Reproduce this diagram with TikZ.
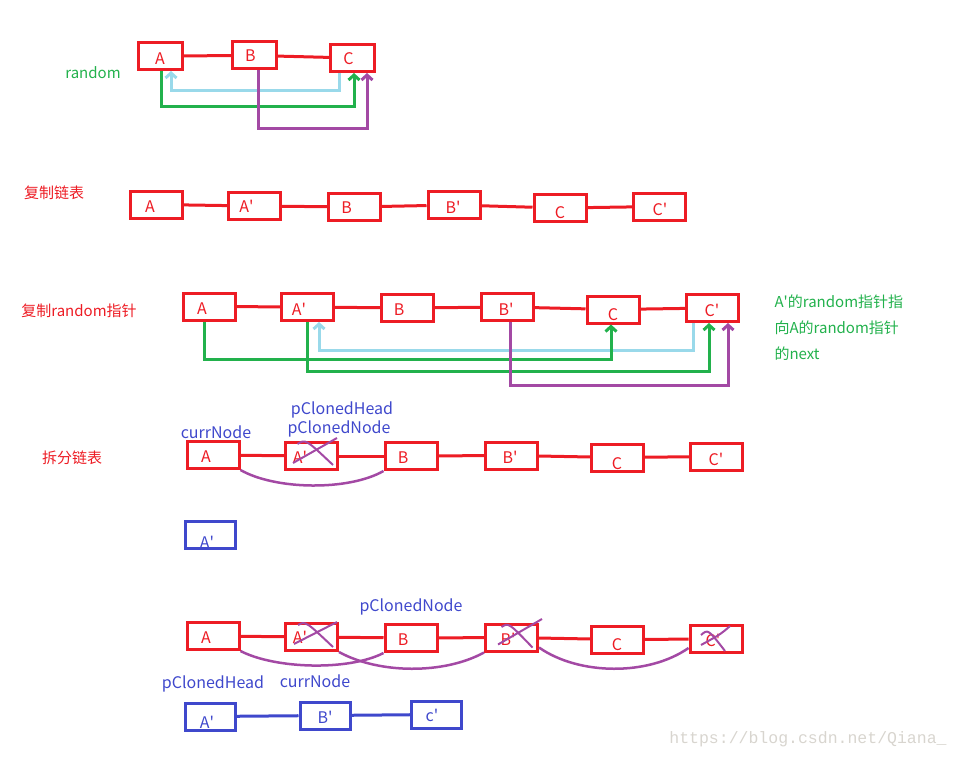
\documentclass[tikz,border=0pt]{standalone}
\usepackage{fontspec}
\setmainfont{Noto Sans CJK SC}
\newfontfamily\urlfont{Liberation Mono}
\usetikzlibrary{arrows.meta}
\definecolor{listred}{HTML}{ED1C24}
\definecolor{randgreen}{HTML}{22B14C}
\definecolor{skyblue}{HTML}{99D9EA}
\definecolor{nextpurple}{HTML}{A349A4}
\definecolor{cloneblue}{HTML}{3F48CC}
\definecolor{markgray}{HTML}{D8D5CF}
\newcommand{\pr}{\textquotesingle}
% text of a cell, moved right by #1 and down by #2 from the middle of the box
\newcommand{\cell}[3]{\raisebox{-\dimexpr#2pt+5.9pt\relax}[0pt][0pt]{\makebox[0pt]{\hspace*{#1pt}\hspace*{#1pt}#3}}}

\begin{document}
\begin{tikzpicture}[x=1pt, y=-1pt, >={Straight Barb[length=5pt,width=11pt]},
    box/.style={draw=listred, line width=3pt, minimum width=52pt, minimum height=27pt,
      inner sep=0pt, text=listred, font=\fontsize{16}{16}\selectfont},
    smallbox/.style={box, minimum width=44pt},
    clonebox/.style={box, draw=cloneblue, text=cloneblue, minimum width=50pt},
    link/.style={listred, line width=3pt},
    clonelink/.style={cloneblue, line width=3pt},
    ptr/.style={line width=3pt, ->},
    bypass/.style={nextpurple, line width=2.5pt},
    strike/.style={nextpurple, line width=2pt},
    title/.style={text=listred, font=\fontsize{15}{15}\selectfont},
    note/.style={text=randgreen, font=\fontsize{15}{15}\selectfont, anchor=west},
    var/.style={text=cloneblue, font=\fontsize{16}{16}\selectfont}]
  \useasboundingbox (0,0) rectangle (960,757);

  % random pointers
  \node[text=randgreen, font=\fontsize{15}{15}\selectfont] (RLBL) at (93,73) {random};
  \node[smallbox] (RA) at (160,56) {\cell{0}{3}{A}};
  \node[smallbox] (RB) at (254.5,55.5) {\cell{-4}{0}{B}};
  \node[smallbox] (RC) at (352.5,58) {\cell{-4}{1}{C}};
  \draw[link] (RA) -- (RB);
  \draw[link] (RB) -- (RC);
  \draw[ptr, skyblue] ([shift={(-13.5,0)}]RC.south) -- ++(0,17.5) -| ([shift={(11,0)}]RA.south);
  \draw[ptr, randgreen] ([shift={(1,0)}]RA.south) -- ++(0,35.5) -| ([shift={(1.5,0)}]RC.south);
  \draw[ptr, nextpurple] ([shift={(3.5,0)}]RB.south) -- ++(0,58) -| ([shift={(14.5,0)}]RC.south);

  % copy list
  \node[title] (CLBL) at (54,193) {复制链表};
  \node[box] (CA) at (156,204.5) {\cell{-6}{2.5}{A}};
  \node[box] (CAp) at (254.5,206) {\cell{-8}{1}{A\pr}};
  \node[box] (CB) at (354.5,207) {\cell{-8}{1}{B}};
  \node[box] (CBp) at (454,205) {\cell{-1}{3}{B\pr}};
  \node[box] (CC) at (560,208) {\cell{0}{5}{C}};
  \node[box] (CCp) at (659.5,206.5) {\cell{0.5}{3.5}{C\pr}};
  \draw[link] (CA) -- (CAp);
  \draw[link] (CAp) -- (CB);
  \draw[link] (CB) -- (CBp);
  \draw[link] (CBp) -- (CC);
  \draw[link] (CC) -- (CCp);

  % copy random pointers
  \node[title] (PLBL) at (79,311) {复制random指针};
  \node[box] (PA) at (209.5,306.5) {\cell{-7.5}{2.5}{A}};
  \node[box] (PAp) at (307.5,307) {\cell{-8.5}{3}{A\pr}};
  \node[box] (PB) at (407.5,308) {\cell{-8.5}{2}{B}};
  \node[box] (PBp) at (507.5,307) {\cell{-1.5}{3}{B\pr}};
  \node[box] (PC) at (613,309.5) {\cell{0}{5.5}{C}};
  \node[box] (PCp) at (712.5,308) {\cell{-0.5}{3}{C\pr}};
  \draw[link] (PA) -- (PAp);
  \draw[link] (PAp) -- (PB);
  \draw[link] (PB) -- (PBp);
  \draw[link] (PBp) -- (PC);
  \draw[link] (PC) -- (PCp);
  \draw[ptr, skyblue] ([shift={(-19.5,0)}]PCp.south) -- ++(0,27.5) -| ([shift={(11.5,0)}]PAp.south);
  \draw[ptr, randgreen] ([shift={(-5.5,0)}]PA.south) -- ++(0,38) -| ([shift={(-2,0)}]PC.south);
  \draw[ptr, randgreen] ([shift={(-0.5,0)}]PAp.south) -- ++(0,49.5) -| ([shift={(-3.5,0)}]PCp.south);
  \draw[ptr, nextpurple] ([shift={(2.5,0)}]PBp.south) -- ++(0,63.5) -| ([shift={(15.5,0)}]PCp.south);
  \node[note] (N1) at (771,302) {A\pr 的random指针指};
  \node[note] (N2) at (771,328) {向A的random指针};
  \node[note] (N3) at (771,354) {的next};

  % split list, first step
  \node[title] (SLBL) at (72,458) {拆分链表};
  \node[box] (SA) at (213,455) {\cell{-7}{2}{A}};
  \node[box] (SAp) at (311.5,456) {\cell{-11.5}{2}{A\pr}};
  \node[box] (SB) at (411,456) {\cell{-8}{2}{B}};
  \node[box] (SBp) at (511.5,455.5) {\cell{-1.5}{2.5}{B\pr}};
  \node[box] (SC) at (617.5,457.5) {\cell{-0.5}{6.5}{C}};
  \node[box] (SCp) at (716.5,456.5) {\cell{-0.5}{3.5}{C\pr}};
  \draw[link] (SA) -- (SAp);
  \draw[link] (SAp) -- (SB);
  \draw[link] (SB) -- (SBp);
  \draw[link] (SBp) -- (SC);
  \draw[link] (SC) -- (SCp);
  \draw[strike] ([shift={(-18.5,7)}]SAp.center) -- ([shift={(25.5,-18)}]SAp.center);
  \draw[strike] ([shift={(-14,-12)}]SAp.center) .. controls ([shift={(-6,-17)}]SAp.center) .. ([shift={(21.5,9)}]SAp.center);
  \draw[bypass] (SA.south east) .. controls +(35,20) and +(-35,20) .. (SB.south west);
  \node[var] (SCUR) at (216,432) {currNode};
  \node[var] (SHEAD) at (342,410) {pClonedHead};
  \node[var] (SNODE) at (339,429) {pClonedNode};
  \node[clonebox] (SApb) at (210.5,535) {\cell{-3.5}{8}{A\pr}};

  % split list, later step
  \node[box] (TA) at (213,636) {\cell{-7}{2}{A}};
  \node[box] (TAp) at (311.5,637) {\cell{-11.5}{1}{A\pr}};
  \node[box] (TB) at (411,638) {\cell{-8}{2}{B}};
  \node[box] (TBp) at (511.5,637.5) {\cell{-3.5}{2.5}{B\pr}};
  \node[box] (TC) at (617.5,639.5) {\cell{-0.5}{5.5}{C}};
  \node[box] (TCp) at (716,639) {\cell{-3}{2}{C\pr}};
  \draw[link] (TA) -- (TAp);
  \draw[link] (TAp) -- (TB);
  \draw[link] (TB) -- (TBp);
  \draw[link] (TBp) -- (TC);
  \draw[link] (TC) -- (TCp);
  \draw[strike] ([shift={(-17.5,7)}]TAp.center) -- ([shift={(25.5,-15)}]TAp.center);
  \draw[strike] ([shift={(-13.5,-12)}]TAp.center) .. controls ([shift={(-6,-16)}]TAp.center) .. ([shift={(21.5,10)}]TAp.center);
  \draw[strike] ([shift={(-13.5,7)}]TBp.center) -- ([shift={(30.5,-18.5)}]TBp.center);
  \draw[strike] ([shift={(-10,-10.5)}]TBp.center) .. controls ([shift={(-3,-15)}]TBp.center) .. ([shift={(21,10)}]TBp.center);
  \draw[strike] ([shift={(-15,6)}]TCp.center) .. controls ([shift={(5,-5)}]TCp.center) .. ([shift={(14,-13)}]TCp.center);
  \draw[strike] ([shift={(-15,-4)}]TCp.center) .. controls ([shift={(-8,-10)}]TCp.center) .. ([shift={(9,12)}]TCp.center);
  \draw[bypass] (TA.south east) .. controls +(35,18) and +(-35,18) .. (TB.south west);
  \draw[bypass] (TAp.south east) .. controls +(40,22) and +(-40,22) .. (TBp.south west);
  \draw[bypass] ([shift={(0,-5)}]TBp.south east) .. controls +(40,28) and +(-40,28) .. ([shift={(0,-6)}]TCp.south west);
  \node[var] (TNODE) at (411,607) {pClonedNode};
  \node[var] (THEAD) at (213,684) {pClonedHead};
  \node[var] (TCUR) at (315,681) {currNode};
  \node[clonebox] (TApb) at (210,716.5) {\cell{-3}{6.5}{A\pr}};
  \node[clonebox] (TBpb) at (325,715.5) {\cell{0}{2.5}{B\pr}};
  \node[clonebox] (TCpb) at (436.5,714.5) {\cell{-4.5}{1.5}{c\pr}};
  \draw[clonelink] (TApb) -- (TBpb);
  \draw[clonelink] (TBpb) -- (TCpb);

  \node[text=markgray, font=\urlfont\fontsize{16.5}{16.5}\selectfont] (MARK) at (808,739) {https://blog.csdn.net/Qiana\_};
\end{tikzpicture}
\end{document}
